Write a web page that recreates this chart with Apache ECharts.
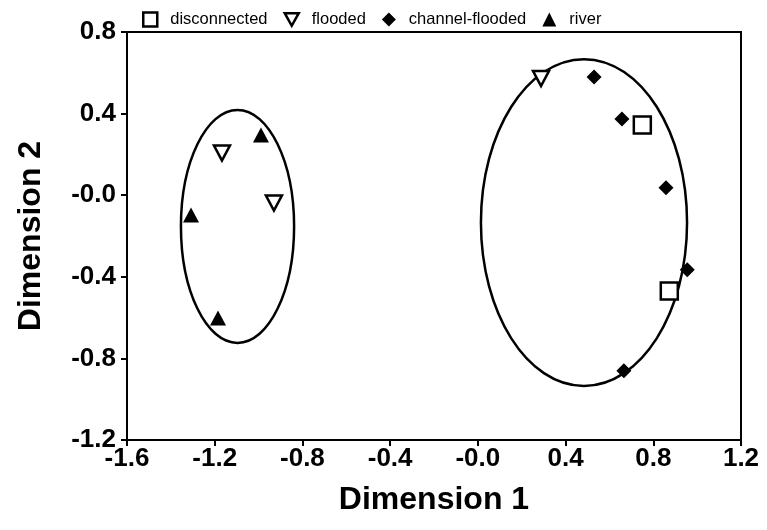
<!DOCTYPE html>
<html>
<head>
<meta charset="utf-8">
<script src="https://cdn.jsdelivr.net/npm/echarts@6/dist/echarts.min.js"></script>
<style>html,body{margin:0;padding:0;background:#fff}#c{width:767px;height:530px}</style>
</head>
<body>
<div id="c"></div>
<script>
// ---- data ----
const seriesNames = ['disconnected', 'flooded', 'channel-flooded', 'river'];
const disconnected = [[0.750, 0.344], [0.873, -0.470]];
const flooded = [[-1.167, 0.207], [-0.930, -0.038], [0.288, 0.572]];
const channelFlooded = [[0.530, 0.579], [0.657, 0.374], [0.858, 0.036], [0.955, -0.366], [0.666, -0.861]];
const river = [[-0.989, 0.295], [-1.308, -0.097], [-1.185, -0.602]];
// ellipses: [centerX, centerY, radiusX, radiusY]
const ellipses = [[-1.096, -0.153, 0.258, 0.571], [0.484, -0.134, 0.470, 0.801]];
const xTicks = [-1.6, -1.2, -0.8, -0.4, 0.0, 0.4, 0.8, 1.2];
const yTicks = [-1.2, -0.8, -0.4, 0.0, 0.4, 0.8];

const fmt = v => (Math.abs(v) < 1e-9 ? '-0.0' : v.toFixed(1));
const FONT = 'Liberation Sans, Arial, sans-serif';
const downTri = 'path://M0,0 L10,0 L5,9 Z';

const chart = echarts.init(document.getElementById('c'), null, {renderer: 'canvas'});
const axisCommon = {
  axisLine: {show: true, onZero: false, lineStyle: {color: '#000', width: 2}},
  axisTick: {show: true, inside: false, length: 6, lineStyle: {color: '#000', width: 2}},
  splitLine: {show: false},
  axisLabel: {color: '#000', fontWeight: 'bold', fontSize: 26, fontFamily: FONT, formatter: fmt},
  nameLocation: 'middle',
  nameTextStyle: {color: '#000', fontWeight: 'bold', fontSize: 32, fontFamily: FONT}
};
chart.setOption({
  animation: false,
  backgroundColor: '#fff',
  grid: {left: 127, right: 26, top: 32, bottom: 90, show: true, borderColor: '#000', borderWidth: 2},
  legend: {
    top: 6, left: 137, itemGap: 16, itemWidth: 14, itemHeight: 14,
    textStyle: {color: '#000', fontSize: 16.5, fontFamily: FONT, padding: [0, 0, 0, 8]},
    data: [
      {name: seriesNames[0], itemStyle: {borderWidth: 2.5}},
      {name: seriesNames[1], itemStyle: {borderWidth: 2.5}},
      seriesNames[2],
      seriesNames[3]
    ]
  },
  xAxis: Object.assign({}, axisCommon, {
    type: 'value', min: xTicks[0], max: xTicks[xTicks.length - 1], interval: 0.4,
    name: 'Dimension 1', nameGap: 44,
    axisLabel: Object.assign({}, axisCommon.axisLabel, {margin: 6})
  }),
  yAxis: Object.assign({}, axisCommon, {
    type: 'value', min: yTicks[0], max: yTicks[yTicks.length - 1], interval: 0.4,
    name: 'Dimension 2', nameGap: 80,
    axisLabel: Object.assign({}, axisCommon.axisLabel, {margin: 11})
  }),
  series: [
    {
      type: 'custom', name: 'ellipse', silent: true, z: 1,
      data: ellipses,
      renderItem: function (params, api) {
        const c = api.coord([api.value(0), api.value(1)]);
        const s = api.size([api.value(2), api.value(3)]);
        return {type: 'ellipse', shape: {cx: c[0], cy: c[1], rx: s[0], ry: s[1]},
          style: {fill: null, stroke: '#000', lineWidth: 2.5}};
      },
      encode: {x: 0, y: 1}
    },
    {type: 'scatter', name: seriesNames[0], data: disconnected, symbol: 'rect', symbolSize: 17, z: 3,
      itemStyle: {color: '#fff', borderColor: '#000', borderWidth: 2.5, opacity: 1}},
    {type: 'scatter', name: seriesNames[1], data: flooded, symbol: downTri, symbolSize: [16, 15], z: 3,
      itemStyle: {color: '#fff', borderColor: '#000', borderWidth: 2.5, opacity: 1}},
    {type: 'scatter', name: seriesNames[2], data: channelFlooded, symbol: 'diamond', symbolSize: 15, z: 3,
      itemStyle: {color: '#000', opacity: 1}},
    {type: 'scatter', name: seriesNames[3], data: river, symbol: 'triangle', symbolSize: [16, 15], z: 3,
      itemStyle: {color: '#000', opacity: 1}}
  ]
});
</script>
</body>
</html>
